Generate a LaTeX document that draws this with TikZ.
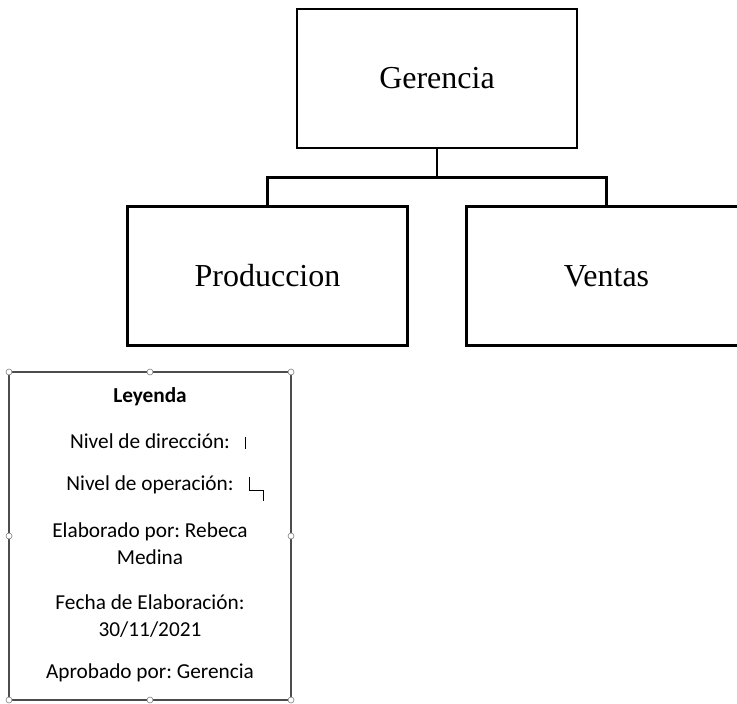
\documentclass[tikz,border=0pt]{standalone}
\usepackage{fontspec}
\setmainfont{Liberation Serif}
\newfontfamily\legendfont{Carlito}
\usetikzlibrary{trees}
\frenchspacing

\begin{document}
\begin{tikzpicture}[x=1pt, y=-1pt, line width=2.6pt,
				   orgbox/.style={rectangle, draw=black, minimum width=280pt, minimum height=139pt,
				                  font=\fontsize{32}{38}\selectfont},
				   legendtext/.style={align=center, font=\legendfont\fontsize{21.3}{27}\selectfont},
				   handle/.style={draw=gray, fill=white, line width=0.6pt},
				   level 1/.style={level distance=197.5pt, sibling distance=339pt},
				   edge from parent fork down]
\useasboundingbox (0,0) rectangle (737,704);
\clip (0,0) rectangle (737,704);
\node[orgbox] (ger) at (437,78.5) {Gerencia}
	child {node[orgbox] (prod) {Produccion}}
	child {node[orgbox] (vent) {Ventas}}
;
% leyenda
\draw[line width=1.6pt, draw=black!70] (9,372) rectangle (291,700);
\foreach \hx/\hy in {9/372, 150/372, 291/372, 9/536, 291/536, 9/700, 150/700, 291/700}
	\draw[handle] (\hx,\hy) circle (3pt);
\node[legendtext, font=\legendfont\bfseries\fontsize{21.3}{27}\selectfont] (ley) at (150,397) {Leyenda};
\node[legendtext] (dir) at (150,441) {Nivel de dirección:};
\node[legendtext] (oper) at (150,485) {Nivel de operación:};
\node[legendtext] (elab) at (150,543.5) {Elaborado por: Rebeca\\Medina};
\node[legendtext] (fecha) at (150,616.5) {Fecha de Elaboración:\\30/11/2021};
\node[legendtext] (apr) at (150,673) {Aprobado por: Gerencia};
\draw[line width=1pt] (245,437) -- (245,449);
\draw[line width=1pt] (249,477) -- (249,490) -- (263,490) -- (263,501);
\end{tikzpicture}
\end{document}
